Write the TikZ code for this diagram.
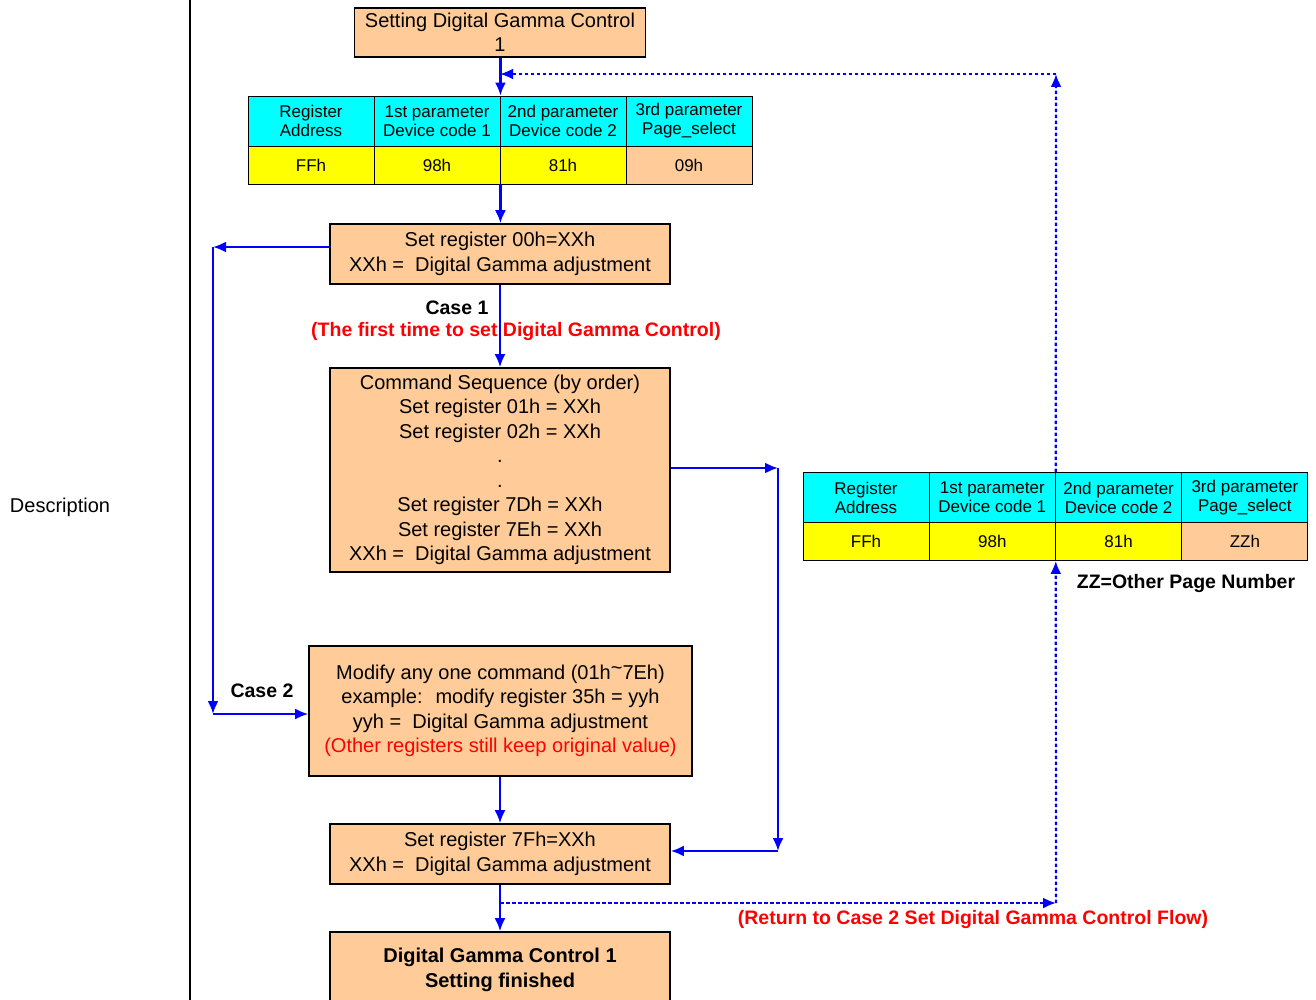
\documentclass[tikz,border=0pt]{standalone}
\usepackage{fontspec}
\setmainfont{Liberation Sans}
\usetikzlibrary{arrows.meta,positioning,calc}
\definecolor{peach}{HTML}{FFCC99}
\definecolor{headCyan}{HTML}{00FFFF}
\definecolor{valYellow}{HTML}{FFFF00}
\definecolor{flowblue}{HTML}{0000FF}
\definecolor{noteRed}{HTML}{FF0000}

\begin{document}
\begin{tikzpicture}[x=1pt,y=-1pt,
    box/.style={draw,line width=1.6pt,fill=peach,align=center,inner sep=0pt,
      font=\fontsize{20}{24.5}\selectfont},
    cell/.style={draw,line width=0.9pt,minimum width=126pt,align=center,inner sep=0pt,
      font=\fontsize{17}{19}\selectfont},
    head/.style={cell,fill=headCyan,minimum height=50pt},
    val/.style={cell,minimum height=38pt},
    flow/.style={-{Latex[length=13pt,width=11pt]},flowblue,line width=2.2pt},
    back/.style={flow,dash pattern=on 3.5pt off 2.5pt},
    note/.style={font=\bfseries\fontsize{19.5}{22}\selectfont}]
  \useasboundingbox (0,0) rectangle (1316,1000);

  % left column
  \node (desc) at (60,507) {\fontsize{20}{24}\selectfont Description};
  \draw[line width=1.6pt] (190,0) -- (190,1000);

  % flow boxes
  \node[box,minimum width=291pt,minimum height=49pt] (start) at (500,32.5)
    {Setting Digital Gamma Control\\1};
  \node[box,minimum width=340pt,minimum height=60pt] (set00) at (500,254)
    {Set register 00h=XXh\\XXh = \ Digital Gamma adjustment};
  \node[box,minimum width=340pt,minimum height=204pt] (cmdseq) at (500,470)
    {Command Sequence (by order)\\Set register 01h = XXh\\Set register 02h = XXh\\.\\.\\
     Set register 7Dh = XXh\\Set register 7Eh = XXh\\XXh = \ Digital Gamma adjustment};
  \node[box,minimum width=383pt,minimum height=130pt] (modify) at (500.5,711)
    {Modify any one command (01h\raisebox{0.5ex}{\textasciitilde}7Eh)\\example: \ modify register 35h = yyh\\
     yyh = \ Digital Gamma adjustment\\\textcolor{noteRed}{(Other registers still keep original value)}};
  \node[box,minimum width=340pt,minimum height=60pt] (set7f) at (500,854)
    {Set register 7Fh=XXh\\XXh = \ Digital Gamma adjustment};
  \node[box,minimum width=340pt,minimum height=76pt,font=\bfseries\fontsize{20}{24.5}\selectfont]
    (finish) at (500,970) {Digital Gamma Control 1\\Setting finished};

  % page select tables
  \foreach \hd/\vl/\fl [count=\i] in {{Register\\Address}/FFh/valYellow,
      {1st parameter\\Device code 1}/98h/valYellow,{2nd parameter\\Device code 2}/81h/valYellow,
      {3rd parameter\\Page\_select}/09h/peach}{
    \node[head] (ta\i) at ({311+126*(\i-1)},121) {\hd};
    \node[val,fill=\fl] (tav\i) at ({311+126*(\i-1)},165) {\vl};
  }
  \foreach \hd/\vl/\fl [count=\i] in {{Register\\Address}/FFh/valYellow,
      {1st parameter\\Device code 1}/98h/valYellow,{2nd parameter\\Device code 2}/81h/valYellow,
      {3rd parameter\\Page\_select}/ZZh/peach}{
    \node[head] (tb\i) at ({866+126.3*(\i-1)},497.5) {\hd};
    \node[val,fill=\fl] (tbv\i) at ({866+126.3*(\i-1)},541.5) {\vl};
  }

  % labels
  \node[note] (case1) at (457,308) {Case 1};
  \node[note,text=noteRed] (case1txt) at (516,332) {(The first time to set Digital Gamma Control)};
  \node[note] (case2) at (262,691) {Case 2};
  \node[note] (zz) at (1186,583) {ZZ=Other Page Number};
  \node[note,text=noteRed] (rettxt) at (973,919) {(Return to Case 2 Set Digital Gamma Control Flow)};

  % turning points
  \coordinate (lft) at (213,247);
  \coordinate (lftb) at (213,714);
  \coordinate (rgt) at (778,468);
  \coordinate (rgtb) at (778,851);
  \coordinate (ret) at (500,903);
  \coordinate (retr) at (1056,903);
  \coordinate (topr) at (1056,74);
  \coordinate (topl) at (500,74);

  % main flow
  \draw[flow] (start.south -| ta2.north east) -- (ta2.north east);
  \draw[flow] (tav2.south east) -- (tav2.south east |- set00.north);
  \draw[flow] (set00.south) -- (cmdseq.north);
  \draw[flow] (set00.west |- lft) -- (lft);
  \draw[flow] (lft) -- (lftb);
  \draw[flow] (lftb) -- (lftb -| modify.west);
  \draw[flow] (cmdseq.east |- rgt) -- (rgt);
  \draw[flow] (rgt) -- (rgtb);
  \draw[flow] (rgtb) -- (rgtb -| set7f.east);
  \draw[flow] (modify.south -| set7f.north) -- (set7f.north);
  \draw[flow] (set7f.south) -- (finish.north);

  % return path
  \draw[back] (ret) -- (retr);
  \draw[back] (retr) -- (tbv2.south east);
  \draw[back] (tb2.north east) -- (topr);
  \draw[back] (topr) -- (topl);
\end{tikzpicture}
\end{document}
